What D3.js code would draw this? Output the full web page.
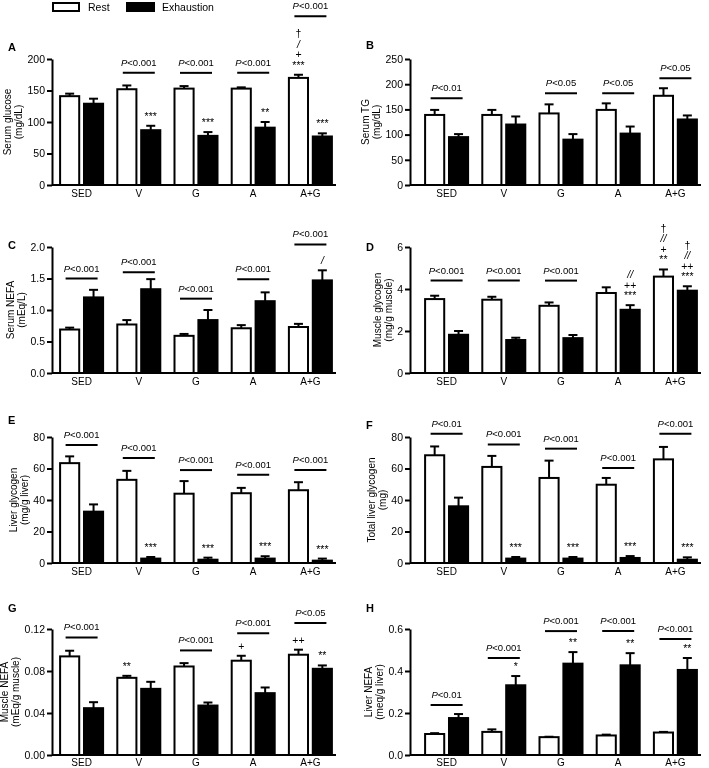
<!DOCTYPE html>
<html>
<head>
<meta charset="utf-8">
<script src="https://cdn.jsdelivr.net/npm/d3@7"></script>
<style>
body { margin: 0; background: #fff; }
svg { will-change: transform; }
text { font-family: "Liberation Sans", Arial, sans-serif; fill: #000; }
</style>
</head>
<body>
<div id="chart"></div>
<script>
var groups = ["SED", "V", "G", "A", "A+G"];

// A - serum glucose
var glucoseRest = [141, 152, 153, 153, 170], glucoseRestSem = [4, 6, 4, 2, 5];
var glucoseExh = [129, 87, 78, 91, 77], glucoseExhSem = [8, 7, 6, 9, 5];
var glucoseTicks = [0, 50, 100, 150, 200];
var glucoseP = [[1, "<0.001", 178], [2, "<0.001", 178], [3, "<0.001", 178], [4, "<0.001", 268]];
var glucoseMarks = [[4, 0, ["***", "+", "/", "†"]], [1, 1, ["***"]], [2, 1, ["***"]], [3, 1, ["**"]], [4, 1, ["***"]]];

// B - serum TG
var tgRest = [139, 139, 142, 149, 177], tgRestSem = [10, 10, 18, 13, 15];
var tgExh = [95, 120, 90, 102, 130], tgExhSem = [6, 16, 11, 14, 8];
var tgTicks = [0, 50, 100, 150, 200, 250];
var tgP = [[0, "<0.01", 172], [2, "<0.05", 182], [3, "<0.05", 182], [4, "<0.05", 212]];
var tgMarks = [];

// C - serum NEFA
var nefaRest = [0.69, 0.77, 0.59, 0.71, 0.73], nefaRestSem = [0.03, 0.07, 0.03, 0.05, 0.05];
var nefaExh = [1.20, 1.33, 0.84, 1.14, 1.47], nefaExhSem = [0.12, 0.16, 0.16, 0.14, 0.16];
var nefaTicks = [0, 0.5, 1.0, 1.5, 2.0];
var nefaP = [[0, "<0.001", 1.50], [1, "<0.001", 1.60], [2, "<0.001", 1.18], [3, "<0.001", 1.49], [4, "<0.001", 2.04]];
var nefaMarks = [[4, 1, ["/"]]];

// D - muscle glycogen
var mgRest = [3.52, 3.49, 3.20, 3.81, 4.59], mgRestSem = [0.16, 0.14, 0.16, 0.27, 0.34];
var mgExh = [1.82, 1.57, 1.66, 3.01, 3.92], mgExhSem = [0.18, 0.11, 0.15, 0.22, 0.21];
var mgTicks = [0, 2, 4, 6];
var mgP = [[0, "<0.001", 4.4], [1, "<0.001", 4.4], [2, "<0.001", 4.4]];
var mgMarks = [[3, 1, ["***", "++", "//"]], [4, 0, ["**", "+", "//", "†"]], [4, 1, ["***", "++", "//", "†"]]];

// E - liver glycogen
var lgRest = [63.4, 52.8, 44.0, 44.3, 46.2], lgRestSem = [4.3, 5.7, 8.0, 3.4, 5.1];
var lgExh = [32.6, 2.8, 2.1, 2.8, 1.5], lgExhSem = [4.6, 1.0, 1.3, 1.5, 1.3];
var lgTicks = [0, 20, 40, 60, 80];
var lgP = [[0, "<0.001", 75], [1, "<0.001", 66.6], [2, "<0.001", 59], [3, "<0.001", 56], [4, "<0.001", 59]];
var lgMarks = [[1, 1, ["***"]], [2, 1, ["***"]], [3, 1, ["***"]], [4, 1, ["***"]]];

// F - total liver glycogen
var tlgRest = [68.4, 61.0, 54.0, 49.7, 65.8], tlgRestSem = [5.6, 7.0, 11.0, 4.3, 7.9];
var tlgExh = [36.0, 2.8, 2.8, 3.2, 2.1], tlgExhSem = [5.5, 1.0, 1.0, 1.2, 1.5];
var tlgTicks = [0, 20, 40, 60, 80];
var tlgP = [[0, "<0.01", 82], [1, "<0.001", 75.3], [2, "<0.001", 72.6], [3, "<0.001", 60.3], [4, "<0.001", 82]];
var tlgMarks = [[1, 1, ["***"]], [2, 1, ["***"]], [3, 1, ["***"]], [4, 1, ["***"]]];

// G - muscle NEFA
var mnRest = [0.0939, 0.0735, 0.0843, 0.0898, 0.0955], mnRestSem = [0.0054, 0.0019, 0.0032, 0.0047, 0.0048];
var mnExh = [0.0446, 0.0630, 0.0471, 0.0589, 0.0821], mnExhSem = [0.0057, 0.0067, 0.0029, 0.0054, 0.0032];
var mnTicks = [0, 0.04, 0.08, 0.12];
var mnP = [[0, "<0.001", 0.112], [2, "<0.001", 0.0996], [3, "<0.001", 0.116], [4, "<0.05", 0.1257]];
var mnMarks = [[1, 0, ["**"]], [3, 0, ["+"]], [4, 0, ["++"]], [4, 1, ["**"]]];

// H - liver NEFA
var lnRest = [0.100, 0.110, 0.085, 0.093, 0.107], lnRestSem = [0.004, 0.012, 0.002, 0.004, 0.003];
var lnExh = [0.176, 0.332, 0.435, 0.427, 0.405], lnExhSem = [0.019, 0.044, 0.055, 0.058, 0.057];
var lnTicks = [0, 0.2, 0.4, 0.6];
var lnP = [[0, "<0.01", 0.238], [1, "<0.001", 0.462], [2, "<0.001", 0.59], [3, "<0.001", 0.59], [4, "<0.001", 0.552]];
var lnMarks = [[1, 1, ["*"]], [2, 1, ["**"]], [3, 1, ["**"]], [4, 1, ["**"]]];

var panels = [
  {letter: "A", col: 0, row: 0, title: ["Serum glucose", "(mg/dL)"], rest: glucoseRest, restSem: glucoseRestSem, exh: glucoseExh, exhSem: glucoseExhSem, ticks: glucoseTicks, fmt: d3.format("d"), p: glucoseP, marks: glucoseMarks, ly: 51},
  {letter: "B", col: 1, row: 0, title: ["Serum TG", "(mg/dL)"], rest: tgRest, restSem: tgRestSem, exh: tgExh, exhSem: tgExhSem, ticks: tgTicks, fmt: d3.format("d"), p: tgP, marks: tgMarks, ly: 49},
  {letter: "C", col: 0, row: 1, title: ["Serum NEFA", "(mEq/L)"], rest: nefaRest, restSem: nefaRestSem, exh: nefaExh, exhSem: nefaExhSem, ticks: nefaTicks, fmt: d3.format(".1f"), p: nefaP, marks: nefaMarks, ly: 249},
  {letter: "D", col: 1, row: 1, title: ["Muscle glycogen", "(mg/g muscle)"], rest: mgRest, restSem: mgRestSem, exh: mgExh, exhSem: mgExhSem, ticks: mgTicks, fmt: d3.format("d"), p: mgP, marks: mgMarks, ly: 251},
  {letter: "E", col: 0, row: 2, title: ["Liver glycogen", "(mg/g liver)"], rest: lgRest, restSem: lgRestSem, exh: lgExh, exhSem: lgExhSem, ticks: lgTicks, fmt: d3.format("d"), p: lgP, marks: lgMarks, ly: 424},
  {letter: "F", col: 1, row: 2, title: ["Total liver glycogen", "(mg)"], rest: tlgRest, restSem: tlgRestSem, exh: tlgExh, exhSem: tlgExhSem, ticks: tlgTicks, fmt: d3.format("d"), p: tlgP, marks: tlgMarks, ly: 429},
  {letter: "G", col: 0, row: 3, title: ["Muscle NEFA", "(mEq/g muscle)"], rest: mnRest, restSem: mnRestSem, exh: mnExh, exhSem: mnExhSem, ticks: mnTicks, fmt: d3.format(".2f"), p: mnP, marks: mnMarks, ly: 612},
  {letter: "H", col: 1, row: 3, title: ["Liver NEFA", "(meq/g liver)"], rest: lnRest, restSem: lnRestSem, exh: lnExh, exhSem: lnExhSem, ticks: lnTicks, fmt: d3.format(".1f"), p: lnP, marks: lnMarks, ly: 612}
];

var axisX = [52, 410], bandRange = [[53, 339], [418, 704]], axisEnd = [336, 701];
var rowTop = [59, 247, 437, 629], plotH = 126;
var sw = 2;

var svg = d3.select("#chart").append("svg")
  .attr("width", 709)
  .attr("height", 768);

// legend
var legend = svg.append("g");
legend.append("rect").attr("x", 53).attr("y", 3).attr("width", 26).attr("height", 8)
  .attr("fill", "#fff").attr("stroke", "#000").attr("stroke-width", sw);
legend.append("text").attr("x", 88).attr("y", 11).attr("font-size", 10.5).text("Rest");
legend.append("rect").attr("x", 127).attr("y", 3).attr("width", 27).attr("height", 8)
  .attr("fill", "#000").attr("stroke", "#000").attr("stroke-width", sw);
legend.append("text").attr("x", 162).attr("y", 11).attr("font-size", 10.5).text("Exhaustion");

function drawPanel(p) {
  var g = svg.append("g");
  var ax = axisX[p.col];
  var top = rowTop[p.row];

  var x0 = d3.scaleBand().domain(groups).range(bandRange[p.col]);
  var x1 = d3.scaleBand().domain([0, 1]).range([-21.5, 21.5]).paddingInner(0.2);
  var y = d3.scaleLinear().domain([0, p.ticks[p.ticks.length - 1]]).range([top + plotH, top]);
  var mid = function(i) { return x0(groups[i]) + x0.bandwidth() / 2; };

  var bars = [];
  groups.forEach(function(gr, i) {
    bars.push({i: i, s: 0, v: p.rest[i], e: p.restSem[i]});
    bars.push({i: i, s: 1, v: p.exh[i], e: p.exhSem[i]});
  });

  // error bars (upper only)
  g.selectAll(".err").data(bars).enter().append("line")
    .attr("x1", function(d) { return mid(d.i) + x1(d.s) + x1.bandwidth() / 2; })
    .attr("x2", function(d) { return mid(d.i) + x1(d.s) + x1.bandwidth() / 2; })
    .attr("y1", function(d) { return y(d.v); })
    .attr("y2", function(d) { return y(d.v + d.e); })
    .attr("stroke", "#000").attr("stroke-width", sw);
  g.selectAll(".cap").data(bars).enter().append("line")
    .attr("x1", function(d) { return mid(d.i) + x1(d.s) + x1.bandwidth() / 2 - 4.5; })
    .attr("x2", function(d) { return mid(d.i) + x1(d.s) + x1.bandwidth() / 2 + 4.5; })
    .attr("y1", function(d) { return y(d.v + d.e); })
    .attr("y2", function(d) { return y(d.v + d.e); })
    .attr("stroke", "#000").attr("stroke-width", sw);

  g.selectAll(".bar").data(bars).enter().append("rect")
    .attr("x", function(d) { return mid(d.i) + x1(d.s); })
    .attr("y", function(d) { return y(d.v); })
    .attr("width", x1.bandwidth())
    .attr("height", function(d) { return y(0) - y(d.v); })
    .attr("fill", function(d) { return d.s ? "#000" : "#fff"; })
    .attr("stroke", "#000").attr("stroke-width", sw);

  // y axis
  var yAxis = g.append("g").attr("transform", "translate(" + ax + ",0)")
    .call(d3.axisLeft(y).tickValues(p.ticks).tickFormat(p.fmt).tickSize(5).tickSizeOuter(0));
  yAxis.select(".domain").attr("stroke-width", sw);
  yAxis.selectAll(".tick line").attr("stroke-width", sw);
  yAxis.selectAll(".tick text").attr("font-size", 10.5).attr("font-family", "Liberation Sans, Arial, sans-serif").attr("x", -7);

  var tw = 0;
  yAxis.selectAll(".tick text").each(function() { tw = Math.max(tw, this.getComputedTextLength()); });

  // x axis line
  g.append("line").attr("x1", ax).attr("x2", axisEnd[p.col])
    .attr("y1", y(0)).attr("y2", y(0)).attr("stroke", "#000").attr("stroke-width", sw);

  g.selectAll(".cat").data(groups).enter().append("text")
    .attr("x", function(d, i) { return mid(i); })
    .attr("y", Math.min(y(0) + 12, 765.5))
    .attr("text-anchor", "middle").attr("font-size", 10)
    .text(function(d) { return d; });

  // y title
  var cy = top + plotH / 2;
  var tx2 = ax - 7 - tw - 9, tx1 = tx2 - 11;
  [tx1, tx2].forEach(function(tx, k) {
    g.append("text").attr("transform", "translate(" + tx + "," + cy + ") rotate(-90)")
      .attr("text-anchor", "middle").attr("dy", "0.35em").attr("font-size", 10)
      .text(p.title[k]);
  });

  // panel letter
  g.append("text").attr("x", p.col ? 366 : 8).attr("y", p.ly)
    .attr("font-size", 11).attr("font-weight", "bold").text(p.letter);

  // significance bars
  p.p.forEach(function(a) {
    var cx = mid(a[0]), yy = y(a[2]);
    g.append("line").attr("x1", cx - 16).attr("x2", cx + 16).attr("y1", yy).attr("y2", yy)
      .attr("stroke", "#000").attr("stroke-width", 2);
    var t = g.append("text").attr("x", cx).attr("y", yy - 7).attr("text-anchor", "middle").attr("font-size", 9.5);
    t.append("tspan").attr("font-style", "italic").text("P");
    t.append("tspan").text(a[1]);
  });

  // stacked symbols
  p.marks.forEach(function(m) {
    var s = m[1];
    var v = s ? p.exh[m[0]] + p.exhSem[m[0]] : p.rest[m[0]] + p.restSem[m[0]];
    var cx = mid(m[0]) + x1(s) + x1.bandwidth() / 2;
    m[2].forEach(function(sym, k) {
      g.append("text").attr("x", cx).attr("y", y(v) - 6 - k * 10.5)
        .attr("text-anchor", "middle").attr("font-size", 10.5)
        .attr("font-style", sym.indexOf("/") >= 0 ? "italic" : "normal")
        .text(sym);
    });
  });
}

panels.forEach(drawPanel);
</script>
</body>
</html>
